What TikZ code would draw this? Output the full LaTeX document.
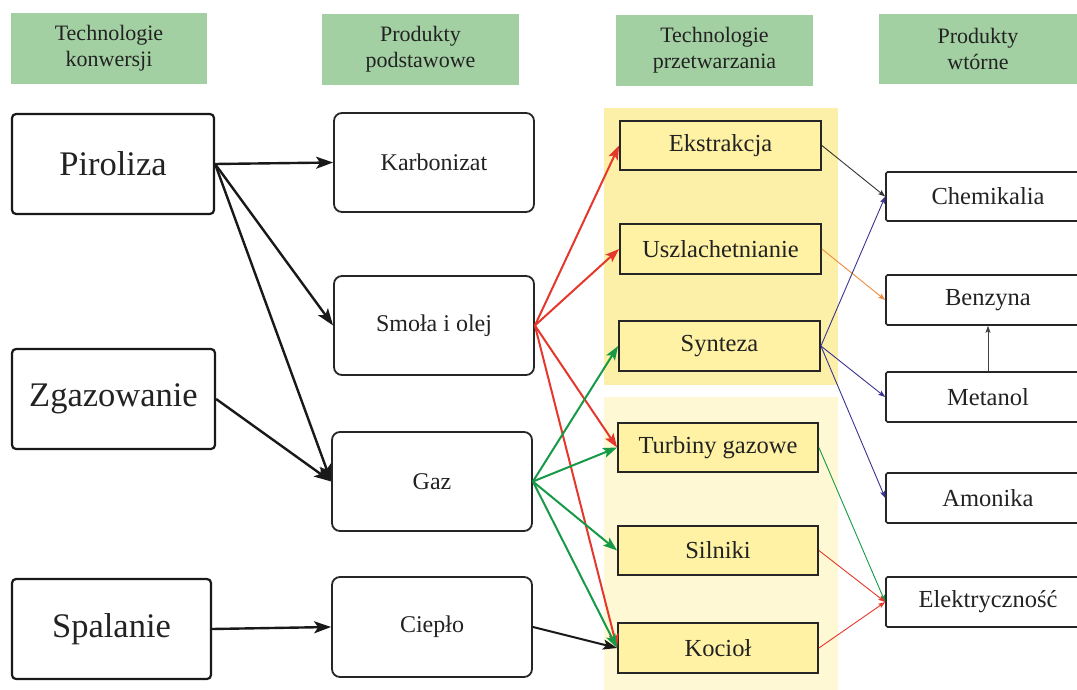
\documentclass[tikz,border=0pt]{standalone}
\usepackage{fontspec}
\setmainfont{Liberation Serif}
\usetikzlibrary{arrows.meta}
\definecolor{hdr}{HTML}{A3D0A2}
\definecolor{txt}{HTML}{222222}
\definecolor{bgtop}{HTML}{FCF0A8}
\definecolor{bgbot}{HTML}{FEF9D4}
\definecolor{procfill}{HTML}{FFF2A4}
\definecolor{ared}{HTML}{E5382C}
\definecolor{agreen}{HTML}{179A48}
\definecolor{ablue}{HTML}{3A3490}
\definecolor{aorange}{HTML}{F08A3C}
\tikzset{
  hdrbox/.style={fill=hdr, inner sep=0, align=center, text=txt, font=\fontsize{22}{26}\selectfont},
  convbox/.style={draw=black!90, line width=2.2pt, rounded corners=4pt, fill=white, inner sep=0, text=txt, font=\fontsize{34.5}{38}\selectfont},
  prodbox/.style={draw=black!85, line width=1.8pt, rounded corners=8pt, fill=white, inner sep=0, text=txt, font=\fontsize{24}{27}\selectfont},
  procbox/.style={draw=black!85, line width=1.8pt, fill=procfill, inner sep=0, text=txt, font=\fontsize{24.5}{27}\selectfont},
  secbox/.style={draw=black!85, line width=1.6pt, rounded corners=1.5pt, fill=white, inner sep=0, text=txt, font=\fontsize{24.5}{27}\selectfont},
  thick arrow/.style={draw=black!90, line width=2.4pt, -{Stealth[length=17pt,width=12pt,inset=4pt]}},
  col arrow/.style={line width=2pt, -{Stealth[length=14pt,width=10pt,inset=3pt]}},
  thin arrow/.style={line width=0.9pt, -{Stealth[length=7pt,width=5pt,inset=1.5pt]}}
}
\begin{document}
\begin{tikzpicture}[x=1pt,y=-1pt]
\clip (0,0) rectangle (1077,690);
\fill[white] (0,0) rectangle (1077,690);
% yellow backgrounds
\fill[bgtop] (604,108) rectangle (838,385);
\fill[bgbot] (604,397) rectangle (838,690);
% headers
\node[hdrbox, minimum width=196, minimum height=71] (h1) at (109,48.5) {Technologie\\konwersji};
\node[hdrbox, minimum width=197, minimum height=71] (h2) at (420.5,49.5) {Produkty\\podstawowe};
\node[hdrbox, minimum width=197, minimum height=71] (h3) at (714.5,50.5) {Technologie\\przetwarzania};
\node[hdrbox, minimum width=198, minimum height=70] (h4) at (978,49) {Produkty\\wtórne};
% conversion technologies
\node[convbox, minimum width=202, minimum height=100] (pir) at (113,164) {Piroliza};
\node[convbox, minimum width=203, minimum height=100] (zga) at (113.5,399) {Zgazowanie};
\node[convbox, minimum width=199, minimum height=100] (spa) at (111.5,629) {Spalanie};
% primary products
\node[prodbox, minimum width=200, minimum height=99] (kar) at (434,162.5) {Karbonizat};
\node[prodbox, minimum width=200, minimum height=99] (smo) at (434,325.5) {Smoła i olej};
\node[prodbox, minimum width=200, minimum height=99] (gaz) at (432,481.5) {Gaz};
\node[prodbox, minimum width=200, minimum height=100] (cie) at (432,627) {Ciepło};
% processing technologies
\node[procbox, minimum width=201, minimum height=49] (eks) at (720.5,145.5) {Ekstrakcja};
\node[procbox, minimum width=201, minimum height=50] (usz) at (720.5,249) {Uszlachetnianie};
\node[procbox, minimum width=201, minimum height=50] (syn) at (719.5,346) {Synteza};
\node[procbox, minimum width=200, minimum height=49] (tur) at (718,447.5) {Turbiny gazowe};
\node[procbox, minimum width=200, minimum height=49] (sil) at (718,550.5) {Silniki};
\node[procbox, minimum width=200, minimum height=50] (koc) at (718,648) {Kocioł};
% secondary products
\node[secbox, minimum width=204, minimum height=49] (che) at (988,196.5) {Chemikalia};
\node[secbox, minimum width=204, minimum height=50] (ben) at (988,300) {Benzyna};
\node[secbox, minimum width=204, minimum height=50] (met) at (988,397) {Metanol};
\node[secbox, minimum width=204, minimum height=50] (amo) at (988,498) {Amonika};
\node[secbox, minimum width=204, minimum height=50] (ele) at (988,602) {Elektryczność};
% black thick arrows
\draw[thick arrow] (pir.east) -- (kar.west);
\draw[thick arrow] (pir.east) -- (smo.west);
\draw[thick arrow] (pir.east) -- (gaz.west);
\draw[thick arrow] (zga.east) -- (gaz.west);
\draw[thick arrow] (spa.east) -- (cie.west);
% red arrows from Smoła i olej
\draw[col arrow, ared] (smo.east) -- (eks.west);
\draw[col arrow, ared] (smo.east) -- (usz.west);
\draw[col arrow, ared] (smo.east) -- (tur.west);
\draw[col arrow, ared] (smo.east) -- (koc.west);
% green arrows from Gaz
\draw[col arrow, agreen] (gaz.east) -- (syn.west);
\draw[col arrow, agreen] (gaz.east) -- (tur.west);
\draw[col arrow, agreen] (gaz.east) -- (sil.west);
\draw[col arrow, agreen] (gaz.east) -- (koc.west);
% Ciepło -> Kocioł
\draw[col arrow, black!90] (cie.east) -- (koc.west);
% thin arrows to secondary products
\draw[thin arrow, black!80] (eks.east) -- (che.west);
\draw[thin arrow, aorange] (usz.east) -- (ben.west);
\draw[thin arrow, ablue] (syn.east) -- (che.west);
\draw[thin arrow, ablue] (syn.east) -- (met.west);
\draw[thin arrow, ablue] (syn.east) -- (amo.west);
\draw[thin arrow, black!75] (met.north) -- (ben.south);
\draw[thin arrow, agreen] (tur.east) -- (ele.west);
\draw[thin arrow, ared] (sil.east) -- (ele.west);
\draw[thin arrow, ared] (koc.east) -- (ele.west);
\end{tikzpicture}
\end{document}
